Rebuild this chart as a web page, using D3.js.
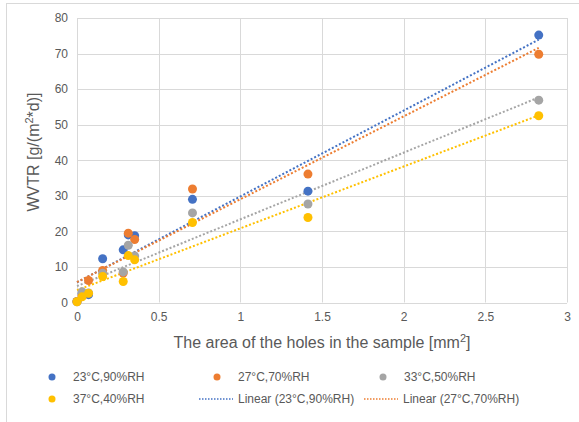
<!DOCTYPE html>
<html>
<head>
<meta charset="utf-8">
<script src="https://cdn.jsdelivr.net/npm/d3@7"></script>
<style>
  body { margin: 0; background: #fff; }
  text { font-family: "Liberation Sans", Arial, sans-serif; fill: #595959; }
</style>
</head>
<body>
<div class="chart"></div>
<script>
// hole areas [mm2] and WVTR values per climate
var areas = [0, 0.0314, 0.0707, 0.157, 0.283, 0.314, 0.353, 0.707, 1.414, 2.827];
var wvtr23 = [0.3, 2.5, 2.2, 12.3, 14.8, 19.0, 18.8, 29.0, 31.3, 75.2];
var wvtr27 = [0.3, 2.0, 6.2, 9.0, 8.3, 19.5, 17.7, 31.9, 36.1, 69.8];
var wvtr33 = [0.2, 3.0, 2.7, 8.2, 8.6, 16.1, 13.1, 25.2, 27.7, 56.9];
var wvtr37 = [0.2, 1.6, 2.6, 7.3, 5.9, 13.2, 12.0, 22.5, 23.9, 52.5];
var seriesNames = ["23°C,90%RH", "27°C,70%RH", "33°C,50%RH", "37°C,40%RH"];
var xTicks = [0, 0.5, 1, 1.5, 2, 2.5, 3];
var yTicks = [0, 10, 20, 30, 40, 50, 60, 70, 80];

var colors = ["#4472C4", "#ED7D31", "#A5A5A5", "#FFC000"];
var allSeries = [wvtr23, wvtr27, wvtr33, wvtr37];

var svgWidth = 579;
var svgHeight = 422;
var margin = {top: 18, right: 12, bottom: 119.5, left: 77};
var width = svgWidth - margin.left - margin.right;
var height = svgHeight - margin.top - margin.bottom;

var svg = d3.select(".chart")
  .append("svg")
  .attr("width", svgWidth)
  .attr("height", svgHeight);

// chart frame (runs off the right / bottom edge)
svg.append("rect")
  .attr("x", 6.5).attr("y", 3.5)
  .attr("width", 600).attr("height", 450)
  .attr("fill", "none")
  .attr("stroke", "#d9d9d9");

var chartGroup = svg.append("g")
  .attr("transform", `translate(${margin.left}, ${margin.top})`);

var xScale = d3.scaleLinear().domain([0, 3]).range([0, width]);
var yScale = d3.scaleLinear().domain([0, 80]).range([height, 0]);

// gridlines
chartGroup.append("g")
  .selectAll("line.h")
  .data(yTicks)
  .enter()
  .append("line")
  .attr("x1", 0).attr("x2", width)
  .attr("y1", d => Math.round(yScale(d)) + 0.5)
  .attr("y2", d => Math.round(yScale(d)) + 0.5)
  .attr("stroke", "#d9d9d9");

chartGroup.append("g")
  .selectAll("line.v")
  .data(xTicks)
  .enter()
  .append("line")
  .attr("y1", 0).attr("y2", height)
  .attr("x1", d => Math.round(xScale(d)) + 0.5)
  .attr("x2", d => Math.round(xScale(d)) + 0.5)
  .attr("stroke", "#d9d9d9");

// axes (labels only)
var bottomAxis = d3.axisBottom(xScale).tickValues(xTicks).tickSize(0).tickPadding(10).tickFormat(d3.format("~g"));
var leftAxis = d3.axisLeft(yScale).tickValues(yTicks).tickSize(0).tickPadding(9);

var xAxisG = chartGroup.append("g")
  .attr("transform", `translate(0,${height})`)
  .call(bottomAxis);
var yAxisG = chartGroup.append("g").call(leftAxis);
[xAxisG, yAxisG].forEach(function(g) {
  g.select(".domain").remove();
  g.selectAll("text").style("font-size", "12px").attr("fill", "#595959")
    .style("font-family", "'Liberation Sans', Arial, sans-serif");
});

// linear trendlines (least squares)
function fit(xs, ys) {
  var mx = d3.mean(xs), my = d3.mean(ys);
  var sxy = d3.sum(xs, (x, i) => (x - mx) * (ys[i] - my));
  var sxx = d3.sum(xs, x => (x - mx) * (x - mx));
  var b = sxy / sxx;
  return {a: my - b * mx, b: b};
}

var xMin = d3.min(areas), xMax = d3.max(areas);
allSeries.forEach(function(ys, i) {
  var f = fit(areas, ys);
  chartGroup.append("line")
    .attr("x1", xScale(xMin)).attr("y1", yScale(f.a + f.b * xMin))
    .attr("x2", xScale(xMax)).attr("y2", yScale(f.a + f.b * xMax))
    .attr("stroke", colors[i])
    .attr("stroke-width", 2)
    .attr("stroke-dasharray", "2,2");
});

// points
allSeries.forEach(function(ys, i) {
  chartGroup.append("g")
    .selectAll("circle")
    .data(areas)
    .enter()
    .append("circle")
    .attr("cx", d => xScale(d))
    .attr("cy", (d, j) => yScale(ys[j]))
    .attr("r", 4.5)
    .attr("fill", colors[i]);
});

// axis titles
var xTitle = svg.append("text")
  .attr("x", margin.left + width / 2)
  .attr("y", 348)
  .attr("text-anchor", "middle")
  .style("font-size", "16px");
xTitle.append("tspan").text("The area of the holes in the sample [mm");
xTitle.append("tspan").attr("dy", -6).style("font-size", "11px").text("2");
xTitle.append("tspan").attr("dy", 6).text("]");

var yTitle = svg.append("text")
  .attr("transform", "translate(39,152) rotate(-90)")
  .attr("text-anchor", "middle")
  .style("font-size", "16px");
yTitle.append("tspan").text("WVTR [g/(m");
yTitle.append("tspan").attr("dy", -6).style("font-size", "11px").text("2");
yTitle.append("tspan").attr("dy", 6).text("*d)]");

// legend
var legendItems = [
  {type: "dot", color: colors[0], label: seriesNames[0], x: 52, y: 377},
  {type: "dot", color: colors[1], label: seriesNames[1], x: 217, y: 377},
  {type: "dot", color: colors[2], label: seriesNames[2], x: 383, y: 377},
  {type: "dot", color: colors[3], label: seriesNames[3], x: 52, y: 399},
  {type: "line", color: colors[0], label: "Linear (" + seriesNames[0] + ")", x: 216, y: 399},
  {type: "line", color: colors[1], label: "Linear (" + seriesNames[1] + ")", x: 381, y: 399}
];

var legend = svg.append("g");
legendItems.forEach(function(it) {
  if (it.type === "dot") {
    legend.append("circle").attr("cx", it.x).attr("cy", it.y).attr("r", 3.5).attr("fill", it.color);
    legend.append("text").attr("x", it.x + 21).attr("y", it.y + 4).style("font-size", "12px").text(it.label);
  } else {
    legend.append("line")
      .attr("x1", it.x - 17).attr("x2", it.x + 17)
      .attr("y1", it.y).attr("y2", it.y)
      .attr("stroke", it.color).attr("stroke-width", 1.5).attr("stroke-dasharray", "1.5,1.5");
    legend.append("text").attr("x", it.x + 22).attr("y", it.y + 4).style("font-size", "12px").text(it.label);
  }
});
</script>
</body>
</html>
